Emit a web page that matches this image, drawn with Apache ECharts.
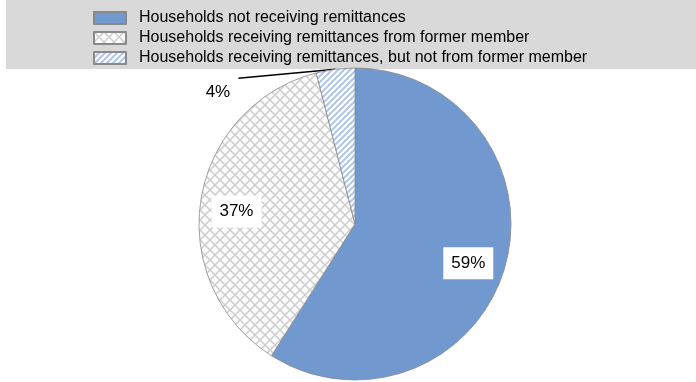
<!DOCTYPE html>
<html>
<head>
<meta charset="utf-8">
<script src="https://cdn.jsdelivr.net/npm/echarts@6/dist/echarts.min.js"></script>
<style>
  html, body { margin: 0; padding: 0; background: #ffffff; }
  #chart { width: 696px; height: 382px; }
</style>
</head>
<body>
<div id="chart"></div>
<script>
// Household categories and their shares (%)
const categories = [
  'Households not receiving remittances',
  'Households receiving remittances from former member',
  'Households receiving remittances, but not from former member'
];
const shares = [59, 37, 4];
const shareLabels = ['59%', '37%', '4%'];

// Small repeating tiles used as slice fills
function crossHatchTile() {
  const c = document.createElement('canvas');
  c.width = 10; c.height = 10;
  const g = c.getContext('2d');
  g.fillStyle = '#fcfcfc';
  g.fillRect(0, 0, 10, 10);
  g.strokeStyle = '#cdcdcd';
  g.lineWidth = 1.5;
  g.beginPath();
  g.moveTo(0, 0); g.lineTo(10, 10);
  g.moveTo(10, 0); g.lineTo(0, 10);
  g.stroke();
  return c;
}
function stripeTile() {
  const s = 6;
  const c = document.createElement('canvas');
  c.width = s; c.height = s;
  const g = c.getContext('2d');
  g.fillStyle = '#ffffff';
  g.fillRect(0, 0, s, s);
  g.strokeStyle = '#b1c6e8';
  g.lineWidth = 2;
  g.beginPath();
  // "/" stripes: lines x + y = k
  for (const k of [0, s, 2 * s]) {
    g.moveTo(k + 1, -1);
    g.lineTo(-1, k + 1);
  }
  g.stroke();
  return c;
}

const fills = [
  '#7199d0',
  { image: crossHatchTile(), repeat: 'repeat' },
  { image: stripeTile(), repeat: 'repeat' }
];

const center = [355, 224];
const labelCenter = [354, 230];
const outsideDrop = 25;
const font = "'Liberation Sans', Arial, sans-serif";
const boxLabel = {
  color: '#000000',
  fontSize: 17,
  lineHeight: 16,
  fontFamily: font,
  backgroundColor: '#ffffff',
  padding: [8, 8, 8, 8]
};

const chart = echarts.init(document.getElementById('chart'), null, { renderer: 'canvas' });

chart.setOption({
  animation: false,
  backgroundColor: '#ffffff',
  graphic: [{
    type: 'rect',
    z: -10,
    silent: true,
    shape: { x: 6, y: 0, width: 690, height: 69 },
    style: { fill: '#d9d9d9' }
  }],
  legend: {
    data: categories,
    orient: 'vertical',
    left: 88,
    top: 5,
    icon: 'rect',
    itemWidth: 32,
    itemHeight: 12,
    itemGap: 4,
    selectedMode: false,
    textStyle: {
      color: '#000000',
      fontSize: 16,
      lineHeight: 16,
      fontFamily: font,
      padding: [0, 0, 0, 8]
    }
  },
  series: [
    {
      type: 'pie',
      center: center,
      radius: 156,
      startAngle: 90,
      clockwise: true,
      silent: true,
      avoidLabelOverlap: false,
      itemStyle: { borderColor: '#8a8a8a', borderWidth: 0.8 },
      labelLine: {
        show: true,
        length: 2,
        length2: 92,
        lineStyle: { color: '#000000', width: 1.6 }
      },
      // drop the small-slice label below the band and point its leader at the box corner
      labelLayout: function (p) {
        if (p.dataIndex !== 2 || !p.labelLinePoints) return {};
        const r = p.labelRect;
        const start = p.labelLinePoints[0];
        return {
          dy: outsideDrop,
          labelLinePoints: [start, [r.x + r.width, r.y + outsideDrop + 2]]
        };
      },
      data: categories.map((name, i) => ({
        name: name,
        value: shares[i],
        itemStyle: { color: fills[i] },
        label: i === 2
          ? Object.assign({ show: true, position: 'outside', formatter: shareLabels[i] }, boxLabel)
          : { show: false },
        labelLine: { show: i === 2 }
      }))
    },
    {
      // transparent ring used only to place the in-slice percentage labels
      type: 'pie',
      center: labelCenter,
      radius: 232,
      startAngle: 90,
      clockwise: true,
      silent: true,
      z: 5,
      itemStyle: { color: 'rgba(0,0,0,0)', borderWidth: 0 },
      labelLine: { show: false },
      data: categories.map((name, i) => ({
        name: name,
        value: shares[i],
        label: i < 2
          ? Object.assign({ show: true, position: 'inside', formatter: shareLabels[i] }, boxLabel)
          : { show: false }
      }))
    }
  ]
});
</script>
</body>
</html>
